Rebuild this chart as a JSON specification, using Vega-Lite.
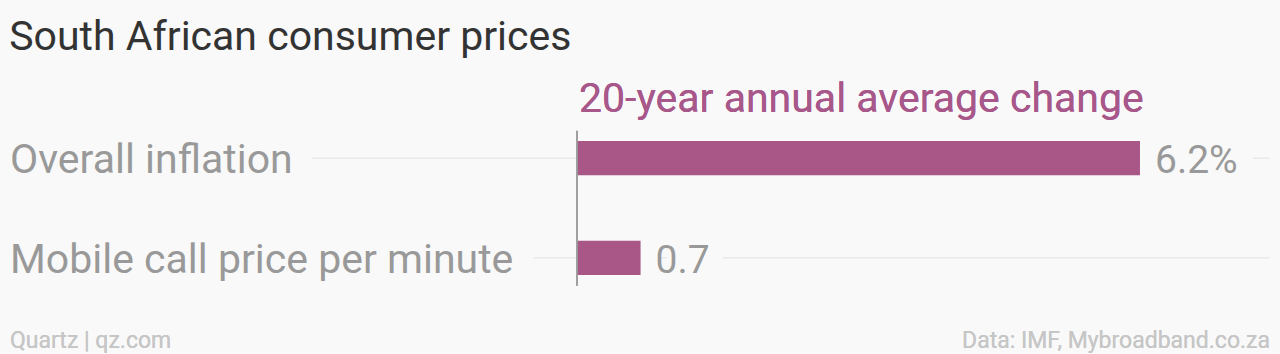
{
  "$schema": "https://vega.github.io/schema/vega-lite/v6.json",
  "width": 1260,
  "height": 216,
  "autosize": {"type": "none"},
  "padding": {"left": 10, "right": 10, "top": 100, "bottom": 38},
  "background": "#f9f9f9",
  "config": {"view": {"stroke": null}, "font": "Roboto"},
  "title": {
    "text": "South African consumer prices",
    "anchor": "start",
    "fontSize": 41,
    "font": "Roboto",
    "fontWeight": "normal",
    "color": "#333333",
    "baseline": "alphabetic",
    "offset": -12
  },
  "data": {
    "values": [
      {"label": "Overall inflation", "change": 6.2, "display": "6.2%"},
      {"label": "Mobile call price per minute", "change": 0.7, "display": "0.7"}
    ]
  },
  "encoding": {
    "y": {
      "field": "label",
      "type": "nominal",
      "sort": null,
      "axis": null,
      "scale": {"paddingInner": 0.658, "paddingOuter": 0.412}
    }
  },
  "layer": [
    {
      "mark": {"type": "rule", "color": "#e9e9e9", "strokeWidth": 1.5},
      "encoding": {
        "x": {"datum": -6.2445, "type": "quantitative", "scale": {"domain": [-6.2445, 7.632], "nice": false, "zero": false}, "axis": null},
        "x2": {"datum": 7.632}
      }
    },
    {
      "mark": {"type": "text", "align": "left", "baseline": "alphabetic", "dy": 15, "fontSize": 41, "font": "Roboto", "fill": "#f9f9f9", "stroke": "#f9f9f9", "strokeWidth": 44, "strokeJoin": "round"},
      "encoding": {
        "x": {"datum": -6.2445, "type": "quantitative", "scale": {"domain": [-6.2445, 7.632], "nice": false, "zero": false}, "axis": null},
        "text": {"field": "label"}
      }
    },
    {
      "mark": {"type": "text", "align": "left", "baseline": "alphabetic", "dx": 15, "dy": 15, "fontSize": 39, "font": "Roboto", "fill": "#f9f9f9", "stroke": "#f9f9f9", "strokeWidth": 36, "strokeJoin": "round"},
      "encoding": {
        "x": {"field": "change", "type": "quantitative", "scale": {"domain": [-6.2445, 7.632], "nice": false, "zero": false}, "axis": null},
        "text": {"field": "display"}
      }
    },
    {
      "mark": {"type": "bar", "color": "#a85787"},
      "encoding": {
        "x": {"field": "change", "type": "quantitative", "scale": {"domain": [-6.2445, 7.632], "nice": false, "zero": false}, "axis": null},
        "x2": {"datum": 0}
      }
    },
    {
      "mark": {"type": "text", "align": "left", "baseline": "alphabetic", "dy": 15, "fontSize": 41, "font": "Roboto", "color": "#999999"},
      "encoding": {
        "x": {"datum": -6.2445, "type": "quantitative", "scale": {"domain": [-6.2445, 7.632], "nice": false, "zero": false}, "axis": null},
        "text": {"field": "label"}
      }
    },
    {
      "mark": {"type": "text", "align": "left", "baseline": "alphabetic", "dx": 15, "dy": 15, "fontSize": 39, "font": "Roboto", "color": "#999999"},
      "encoding": {
        "x": {"field": "change", "type": "quantitative", "scale": {"domain": [-6.2445, 7.632], "nice": false, "zero": false}, "axis": null},
        "text": {"field": "display"}
      }
    },
    {
      "mark": {"type": "rule", "color": "#999999", "strokeWidth": 1.5},
      "encoding": {
        "x": {"datum": 0, "type": "quantitative", "scale": {"domain": [-6.2445, 7.632], "nice": false, "zero": false}, "axis": null},
        "y": {"datum": "Overall inflation", "bandPosition": -0.3},
        "y2": {"datum": "Mobile call price per minute", "bandPosition": 1.32}
      }
    },
    {
      "mark": {"type": "text", "align": "left", "baseline": "alphabetic", "dx": 2, "dy": -29, "fontSize": 41, "font": "Roboto", "color": "#a8578a"},
      "encoding": {
        "x": {"datum": 0, "type": "quantitative", "scale": {"domain": [-6.2445, 7.632], "nice": false, "zero": false}, "axis": null},
        "y": {"datum": "Overall inflation", "bandPosition": 0},
        "text": {"value": "20-year annual average change"}
      }
    },
    {
      "mark": {"type": "text", "align": "left", "baseline": "alphabetic", "dy": 32, "fontSize": 23, "font": "Roboto", "color": "#c6c6c6"},
      "encoding": {
        "x": {"datum": -6.2445, "type": "quantitative", "scale": {"domain": [-6.2445, 7.632], "nice": false, "zero": false}, "axis": null},
        "y": {"value": "height"},
        "text": {"value": "Quartz | qz.com"}
      }
    },
    {
      "mark": {"type": "text", "align": "right", "baseline": "alphabetic", "dy": 32, "fontSize": 23, "font": "Roboto", "color": "#c6c6c6"},
      "encoding": {
        "x": {"datum": 7.632, "type": "quantitative", "scale": {"domain": [-6.2445, 7.632], "nice": false, "zero": false}, "axis": null},
        "y": {"value": "height"},
        "text": {"value": "Data: IMF, Mybroadband.co.za"}
      }
    }
  ]
}
